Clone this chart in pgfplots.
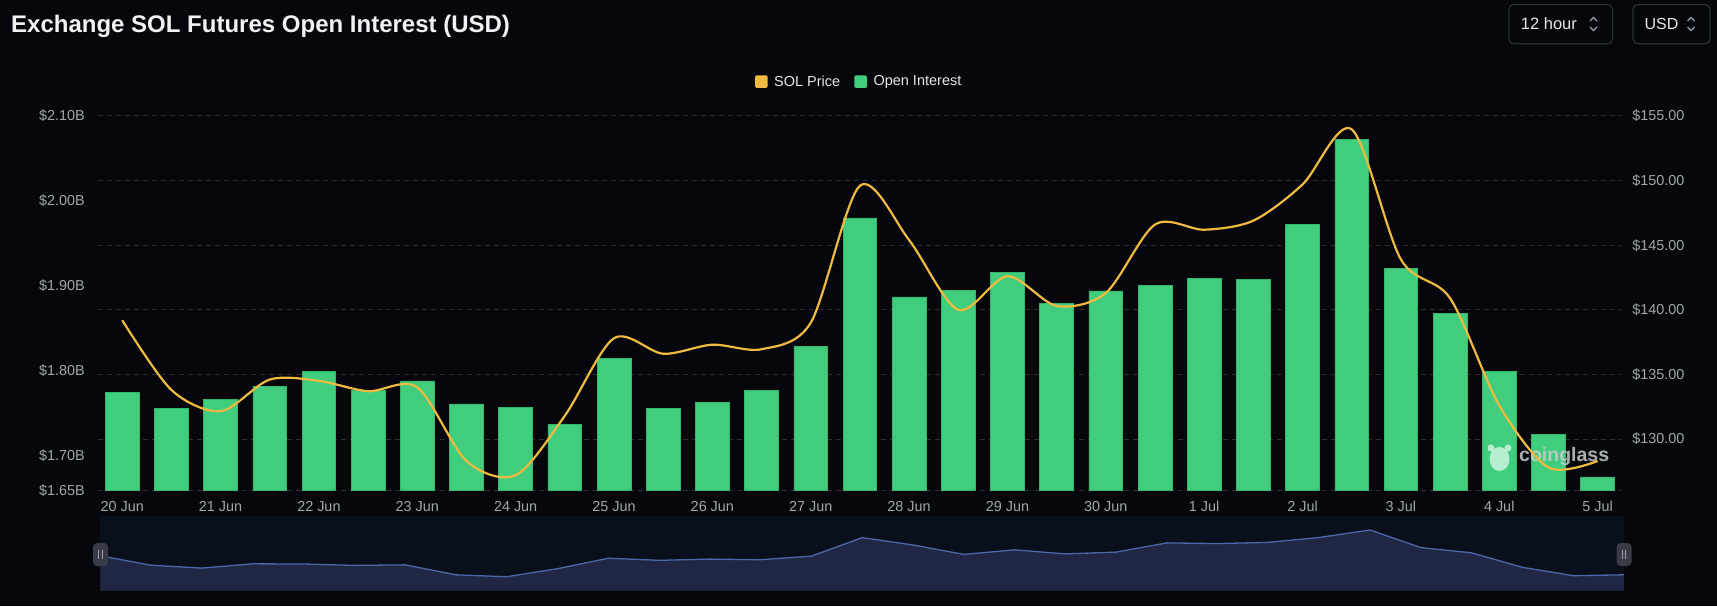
\documentclass[border=0pt]{standalone}
\usepackage{pgfplots}
\pgfplotsset{compat=1.18}
\usepackage{pgfplotstable}
\usepackage{fontspec}
\setmainfont{Liberation Sans}
\definecolor{bg}{HTML}{05070C}
\definecolor{barc}{HTML}{40CE7E}
\definecolor{bare}{HTML}{36B56D}
\definecolor{pricec}{HTML}{F0BA40}
\definecolor{gridc}{HTML}{2A2D34}
\definecolor{tickc}{HTML}{A3A6AD}
\definecolor{tickline}{HTML}{3A3D44}
\definecolor{navbg}{HTML}{0A0F1C}
\definecolor{navfill}{HTML}{1F2744}
\definecolor{navline}{HTML}{4C68A6}
\definecolor{handle}{HTML}{383C47}
\definecolor{handlebar}{HTML}{9AA0AC}
\definecolor{boxc}{HTML}{2C2F37}
\definecolor{titlec}{HTML}{F2F2F2}
\definecolor{legtxt}{HTML}{E6E6E6}
\definecolor{wmark}{HTML}{C8CDD0}
\definecolor{wlogo}{HTML}{C4F2D8}

\pgfplotstableread{
i oi
0 1.775
1 1.756
2 1.766
3 1.782
4 1.799
5 1.777
6 1.788
7 1.761
8 1.757
9 1.737
10 1.815
11 1.756
12 1.7625
13 1.777
14 1.829
15 1.980
16 1.887
17 1.895
18 1.916
19 1.879
20 1.894
21 1.901
22 1.909
23 1.908
24 1.972
25 2.0725
26 1.921
27 1.868
28 1.799
29 1.725
30 1.675
}\oidata

\pgfplotstableread{
i p
0 139.2
1 133.8
2 132.15
3 134.6
4 134.5
5 133.7
6 134.0
7 128.3
8 127.2
9 131.8
10 137.8
11 136.6
12 137.3
13 136.95
14 139.0
15 149.6
16 145.4
17 140.0
18 142.6
19 140.3
20 141.3
21 146.6
22 146.2
23 146.9
24 149.7
25 153.97
26 143.9
27 140.9
28 132.6
29 127.8
30 128.3
}\pricedata

\pgfplotsset{mainaxis/.style={at={(97.6pt,115.3pt)}, anchor=south west,
  width=1524.6pt, height=374.7pt, scale only axis, xmin=-0.5, xmax=30.5}}

\begin{document}
\begin{tikzpicture}[x=1pt,y=1pt]
\path[use as bounding box, fill=bg] (0,0) rectangle (1717,606);

% title
\node[anchor=base west, inner sep=0pt, text=titlec, font=\bfseries\fontsize{24}{28}\selectfont] at (11,573) {Exchange SOL Futures Open Interest (USD)};

% dropdown boxes
\draw[boxc, line width=1.2pt, rounded corners=5pt] (1509,562.2) rectangle (1612.6,601.6);
\node[anchor=west, inner sep=0pt, text=legtxt, font=\fontsize{16.5}{19}\selectfont] at (1520.7,582) {12 hour};
\draw[handlebar, line width=1.1pt] (1590,585) -- (1593.5,588.5) -- (1597,585);
\draw[handlebar, line width=1.1pt] (1590,579) -- (1593.5,575.5) -- (1597,579);
\draw[boxc, line width=1.2pt, rounded corners=5pt] (1633,562.2) rectangle (1710,601.6);
\node[anchor=west, inner sep=0pt, text=legtxt, font=\fontsize{16}{19}\selectfont] at (1644.4,582) {USD};
\draw[handlebar, line width=1.1pt] (1687.5,585) -- (1691,588.5) -- (1694.5,585);
\draw[handlebar, line width=1.1pt] (1687.5,579) -- (1691,575.5) -- (1694.5,579);

% legend
\fill[pricec, rounded corners=1.5pt] (755,518) rectangle (767.7,530.7);
\node[anchor=west, inner sep=0pt, text=legtxt, font=\fontsize{14.5}{17}\selectfont] at (774,524.3) {SOL Price};
\fill[barc, rounded corners=1.5pt] (854.3,518) rectangle (867,530.7);
\node[anchor=west, inner sep=0pt, text=legtxt, font=\fontsize{14.5}{17}\selectfont] at (873.3,524.3) {Open Interest};

% axis A: grid + right labels + minor x ticks
\begin{axis}[mainaxis, ymin=126, ymax=155,
  axis line style={draw=none}, major tick length=0pt,
  xtick=\empty, minor xtick={-0.5,1.5,3.5,5.5,7.5,9.5,11.5,13.5,15.5,17.5,19.5,21.5,23.5,25.5,27.5,29.5,30.5},
  minor tick length=6pt, tick align=outside, xtick pos=bottom,
  minor x tick style={draw=tickline, line width=1pt},
  ytick={130,135,140,145,150,155},
  yticklabels={\$130.00,\$135.00,\$140.00,\$145.00,\$150.00,\$155.00},
  yticklabel pos=right, ytick pos=right,
  yticklabel style={anchor=west, inner sep=0pt, xshift=10pt, font=\fontsize{14.4}{17}\selectfont, text=tickc},
  ymajorgrids, grid style={draw=gridc, line width=1pt, dash pattern=on 5pt off 4pt},
  extra y ticks={126}, extra y tick labels={}, extra y tick style={grid=major}]
\addplot[draw=none] coordinates {(0,130)};
\end{axis}

% axis B: bars + left labels + x labels
\begin{axis}[mainaxis, ymin=1.6588, ymax=2.10,
  axis line style={draw=none}, major tick length=0pt,
  xtick={0,2,4,6,8,10,12,14,16,18,20,22,24,26,28,30},
  xticklabels={20 Jun,21 Jun,22 Jun,23 Jun,24 Jun,25 Jun,26 Jun,27 Jun,28 Jun,29 Jun,30 Jun,1 Jul,2 Jul,3 Jul,4 Jul,5 Jul},
  xticklabel style={anchor=center, inner sep=0pt, yshift=-16pt, font=\fontsize{14.4}{17}\selectfont, text=tickc},
  xtick pos=bottom, ytick pos=left,
  ytick={1.7,1.8,1.9,2.0,2.1},
  yticklabels={\$1.70B,\$1.80B,\$1.90B,\$2.00B,\$2.10B},
  extra y ticks={1.6588}, extra y tick labels={\$1.65B},
  yticklabel style={anchor=east, inner sep=0pt, xshift=-12.6pt, font=\fontsize{14.4}{17}\selectfont, text=tickc}]
\addplot[ybar, bar width=33.7pt, bar shift=0pt, fill=barc, draw=bare, line width=0.6pt] table[x=i,y=oi]{\oidata};
\end{axis}

% watermark
\fill[wlogo, opacity=0.9] (1499.5,147) ellipse (10 and 12);
\fill[wlogo, opacity=0.9] (1491,158) circle (3.5);
\fill[wlogo, opacity=0.9] (1508,158) circle (3.5);
\node[anchor=west, inner sep=0pt, font=\bfseries\fontsize{19.5}{22}\selectfont, text=wmark, opacity=0.85] at (1519,149) {coinglass};

% axis C: price line
\begin{axis}[mainaxis, ymin=126, ymax=155, hide axis]
\addplot[smooth, tension=0.5, draw=pricec, line width=2.2pt] table[x=i,y=p]{\pricedata};
\end{axis}

% navigator
\fill[navbg] (100.4,15.3) rectangle (1624,90);
\begin{axis}[at={(100.4pt,15.3pt)}, anchor=south west, width=1523.6pt, height=74.7pt,
  scale only axis, xmin=0, xmax=30, ymin=119.2, ymax=162, hide axis]
\addplot[fill=navfill, draw=none] table[x=i,y=p]{\pricedata} \closedcycle;
\addplot[draw=navline, line width=1.3pt] table[x=i,y=p]{\pricedata};
\end{axis}
\fill[handle, rounded corners=4pt] (93,40) rectangle (108,63);
\draw[handlebar, line width=0.9pt] (98.7,47) -- (98.7,56) (102.3,47) -- (102.3,56);
\fill[handle, rounded corners=4pt] (1616.5,40) rectangle (1631.5,63);
\draw[handlebar, line width=0.9pt] (1622.2,47) -- (1622.2,56) (1625.8,47) -- (1625.8,56);
\end{tikzpicture}
\end{document}
